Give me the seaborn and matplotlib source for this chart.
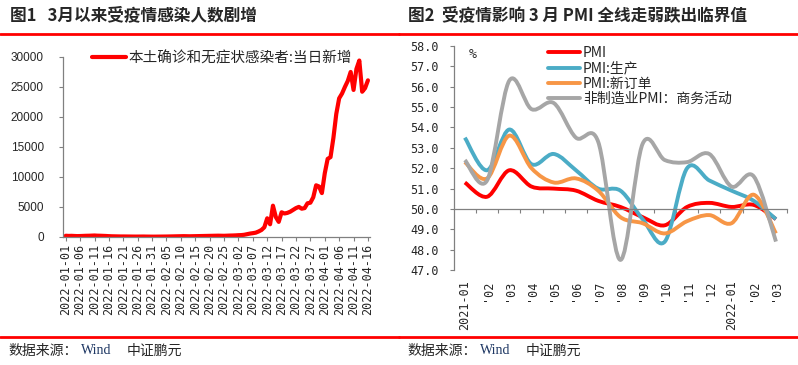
# Two-panel chart: daily new local infections and PMI readings
import numpy as np
import pandas as pd
import matplotlib
matplotlib.use("Agg")
import matplotlib.pyplot as plt
import seaborn as sns
from matplotlib.path import Path
from matplotlib.patches import PathPatch
from matplotlib.lines import Line2D

# ---- data: panel 1 (daily, 2022-01-01 .. 2022-04-16)
case_dates = pd.date_range("2022-01-01", "2022-04-16", freq="D")
cases_jan = [190, 160, 175, 150, 130, 140, 160, 180, 190, 210, 230, 200, 190, 170, 150, 120,
             100, 90, 80, 70, 70, 65, 60, 55, 50, 50, 55, 60, 50, 45, 40]
cases_feb = [40, 45, 50, 55, 60, 70, 80, 90, 100, 110, 120, 110, 100, 110, 120, 130, 140, 150,
             160, 170, 180, 190, 200, 190, 180, 200, 220, 230]
cases_mar = [250, 280, 300, 350, 450, 550, 620, 700, 900, 1150, 1600, 3100, 2100, 5200, 3300,
             2500, 4100, 3900, 4000, 4200, 4500, 4800, 5000, 4700, 4800, 5600, 5700, 6600, 8600,
             8400, 7300]
cases_apr = [10600, 13000, 13300, 16500, 20500, 23100, 23900, 25000, 26000, 27500, 24500, 28000,
             29400, 24200, 24800, 26100]
new_cases = cases_jan + cases_feb + cases_mar + cases_apr
case_label = "本土确诊和无症状感染者:当日新增"

# ---- data: panel 2 (monthly, 2021-01 .. 2022-03)
months = ["2021-01", "'02", "'03", "'04", "'05", "'06", "'07", "'08", "'09", "'10", "'11", "'12",
          "2022-01", "'02", "'03"]
pmi = [51.3, 50.6, 51.9, 51.1, 51.0, 50.9, 50.4, 50.1, 49.6, 49.2, 50.1, 50.3, 50.1, 50.2, 49.5]
pmi_prod = [53.5, 51.9, 53.9, 52.2, 52.7, 51.9, 51.0, 50.9, 49.5, 48.4, 52.0, 51.4, 50.9, 50.4, 49.5]
pmi_orders = [52.3, 51.5, 53.6, 52.0, 51.3, 51.5, 50.9, 49.6, 49.3, 48.8, 49.4, 49.7, 49.3, 50.7, 48.8]
nonmfg_activity = [52.4, 51.4, 56.3, 54.9, 55.2, 53.5, 53.3, 47.5, 53.2, 52.4, 52.3, 52.7, 51.1, 51.6, 48.4]
pmi_labels = ["PMI", "PMI:生产", "PMI:新订单", "非制造业PMI：商务活动"]
pmi_colors = ["#FF0000", "#4BACC6", "#F79646", "#A6A6A6"]

title_1 = "图1   3月以来受疫情感染人数剧增"
title_2 = "图2  受疫情影响 3 月 PMI 全线走弱跌出临界值"

sns.set_theme(style="white")
plt.rcParams['font.family'] = ['Noto Sans CJK SC', 'DejaVu Sans']
plt.rcParams['axes.unicode_minus'] = False

grey = "#808080"


def smooth_path(xs, ys):
    # Excel-style smoothed line drawn as cubic Bezier segments through the data points
    pts = np.column_stack([xs, ys]).astype(float)
    verts = [pts[0]]
    codes = [Path.MOVETO]
    n = len(pts)
    for i in range(n - 1):
        p0 = pts[max(i - 1, 0)]
        p1 = pts[i]
        p2 = pts[i + 1]
        p3 = pts[min(i + 2, n - 1)]
        verts += [p1 + (p2 - p0) / 6, p2 - (p3 - p1) / 6, p2]
        codes += [Path.CURVE4] * 3
    return Path(verts, codes)


fig = plt.figure(figsize=(7.98, 3.65), dpi=100)

# ---------------- panel 1
ax1 = fig.add_axes([0.0793, 0.351, 0.3843, 0.493])
df = pd.DataFrame({"day": np.arange(len(new_cases)), "cases": new_cases})
sns.lineplot(data=df, x="day", y="cases", ax=ax1, color="#FF0000", linewidth=3,
             label=case_label)
ax1.set_xlim(-0.85, len(new_cases) - 0.3)
ax1.set_ylim(0, 30000)
ax1.set_yticks(range(0, 30001, 5000))
ax1.set_xticks(df["day"][::5])
ax1.set_xticklabels(case_dates[::5].strftime("%Y-%m-%d"), rotation=90)
ax1.set_xlabel("")
ax1.set_ylabel("")
for s in ["top", "right"]:
    ax1.spines[s].set_visible(False)
for s in ["left", "bottom"]:
    ax1.spines[s].set_color(grey)
    ax1.spines[s].set_linewidth(0.9)
ax1.tick_params(axis="y", length=3, width=0.8, color=grey, pad=11, labelsize=8.5, left=True)
ax1.tick_params(axis="x", length=3, width=0.8, color=grey, pad=2, labelsize=8.5, bottom=True)
for lbl in ax1.get_yticklabels():
    lbl.set_fontfamily("Liberation Sans")
for lbl in ax1.get_xticklabels():
    lbl.set_fontfamily("DejaVu Sans Mono")
ax1.legend(loc="upper left", bbox_to_anchor=(0.094, 1.035), frameon=False, fontsize=10.5,
           handlelength=2.3, handletextpad=0.2, borderpad=0, borderaxespad=0)

# ---------------- panel 2
ax2 = fig.add_axes([0.5686, 0.260, 0.4177, 0.614])
x = np.arange(len(months))
series = [pmi, pmi_prod, pmi_orders, nonmfg_activity]
handles = []
for vals, col, lab in zip(series, pmi_colors, pmi_labels):
    ax2.add_patch(PathPatch(smooth_path(x, vals), fill=False, edgecolor=col, linewidth=2.8,
                            capstyle="butt", joinstyle="round"))
    handles.append(Line2D([], [], color=col, linewidth=2.8, label=lab))
ax2.set_xlim(-0.5, len(months) - 0.5)
ax2.set_ylim(47, 58)
ax2.set_yticks(np.arange(47, 58.01, 1))
ax2.set_yticklabels([f"{v:.1f}" for v in np.arange(47, 58.01, 1)])
for s in ["top", "right"]:
    ax2.spines[s].set_visible(False)
ax2.spines["left"].set_color(grey)
ax2.spines["left"].set_linewidth(0.9)
ax2.spines["bottom"].set_position(("data", 50))
ax2.spines["bottom"].set_color(grey)
ax2.spines["bottom"].set_linewidth(0.9)
ax2.set_xticks(x + 0.5)
ax2.set_xticklabels([])
ax2.tick_params(axis="x", length=3, width=0.8, color=grey, bottom=True, direction="out")
ax2.tick_params(axis="y", length=3, width=0.8, color=grey, pad=8, labelsize=8.5, left=True)
for lbl in ax2.get_yticklabels():
    lbl.set_fontfamily("DejaVu Sans Mono")

lab_ax = ax2.secondary_xaxis("bottom")
lab_ax.set_xticks(x)
lab_ax.set_xticklabels(months, rotation=90)
lab_ax.tick_params(length=0, pad=7, labelsize=8.5)
lab_ax.spines["bottom"].set_visible(False)
for lbl in lab_ax.get_xticklabels():
    lbl.set_fontfamily("DejaVu Sans Mono")

ax2.text(0.046, 0.96, "%", transform=ax2.transAxes, fontsize=9.5, ha="left", va="center",
         family="DejaVu Sans Mono")
ax2.legend(handles=handles, loc="upper left", bbox_to_anchor=(0.283, 1.0), frameon=False,
           fontsize=10, handlelength=2.3, handletextpad=0.2, borderpad=0, borderaxespad=0,
           labelspacing=0.1)

# ---------------- titles, rules, source notes
fig.text(10 / 798, 1 - 15 / 365, title_1, fontsize=12, fontweight="bold", va="center")
fig.text(408 / 798, 1 - 15 / 365, title_2, fontsize=12, fontweight="bold", va="center")
for y in [1 - 34 / 365, 1 - 337 / 365]:
    fig.add_artist(Line2D([0, 0.5], [y, y], transform=fig.transFigure, color="red", lw=2))
    fig.add_artist(Line2D([0.5, 1], [y, y], transform=fig.transFigure, color="red", lw=2))
for x0 in [8, 407]:
    fig.text(x0 / 798, 1 - 351 / 365, "数据来源：", fontsize=10, va="center")
    fig.text((x0 + 73) / 798, 1 - 351 / 365, "Wind", fontsize=10, va="center",
             family="Liberation Serif", color="#1F3864")
    fig.text((x0 + 119) / 798, 1 - 351 / 365, "中证鹏元", fontsize=10, va="center")

fig.savefig("out.png", dpi=100)
